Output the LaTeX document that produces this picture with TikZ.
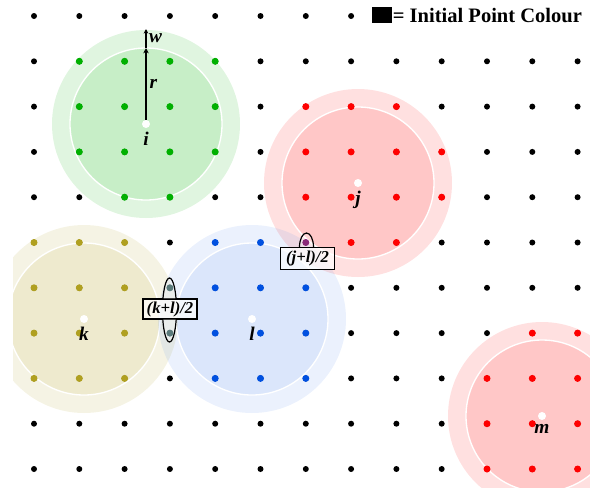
\documentclass[tikz,border=0pt]{standalone}
\usepackage{fontspec}
\setmainfont{Liberation Serif}
\usetikzlibrary{arrows.meta,positioning}
\definecolor{ptgreen}{HTML}{00B000}
\definecolor{ptred}{HTML}{FF0000}
\definecolor{ptolive}{HTML}{B0A020}
\definecolor{ptblue}{HTML}{0050E0}
\definecolor{ptpurple}{HTML}{8B2A7A}
\definecolor{ptgrey}{HTML}{5A7A7A}

\begin{document}
\begin{tikzpicture}[x=0.75pt,y=-0.75pt,
  zoneout/.style={fill=#1,fill opacity=0.12},
  zonein/.style={fill=#1,fill opacity=0.11,draw=white,line width=1pt},
  ctr/.style={circle,fill=white,inner sep=0pt,minimum size=6pt},
  lbl/.style={font=\fontsize{14.5}{16}\selectfont\bfseries\itshape,inner sep=1pt},
  midbox/.style={draw,line width=0.9pt,fill=white,fill opacity=0.7,text opacity=1,inner sep=1pt,
    minimum width=40.5pt,font=\fontsize{12.5}{14}\selectfont\bfseries\itshape},
  bump/.style={draw,line width=0.9pt,fill=white,fill opacity=0.25}
]
\useasboundingbox (0,0) rectangle (590,487);

% zones of the five points
\begin{scope}
  \clip (13,0) rectangle (590,487);
  \foreach \name/\x/\y/\col in {i/146/124/ptgreen,j/358/183/ptred,k/84/319/ptolive,l/252/319/ptblue!65,m/542/416/ptred} {
    \coordinate (c\name) at (\x,\y);
    \fill[zoneout=\col] (c\name) circle[radius=94];
    \filldraw[zonein=\col] (c\name) circle[radius=76];
  }
\end{scope}

% shared points
\node[midbox,minimum height=15pt] (kl) at (170,309) {(k+l)/2};
\node[midbox,minimum height=16.5pt] (jl) at (307.5,258.5) {(j+l)/2};
\begin{scope}
  \clip ([yshift=40pt]kl.north west) rectangle (kl.north east);
  \filldraw[bump] (169.5,310) ellipse[x radius=7,y radius=32];
\end{scope}
\begin{scope}
  \clip (kl.south west) rectangle ([yshift=-40pt]kl.south east);
  \filldraw[bump] (169.5,310) ellipse[x radius=7,y radius=32];
\end{scope}
\begin{scope}
  \clip ([yshift=30pt]jl.north west) rectangle (jl.north east);
  \filldraw[bump] (306.5,247) ellipse[x radius=7,y radius=14];
\end{scope}

% grid points
\foreach \c in {0,...,12}
  \foreach \r in {1,...,10}
    \fill ({34+45.3*\c},{16+45.3*\r}) circle[radius=3];
\foreach \c in {0,...,7}
  \fill ({34+45.3*\c},16) circle[radius=3];
\foreach \col/\pts in {
  ptgreen/{1/1,2/1,3/1,4/1,1/2,2/2,3/2,4/2,1/3,2/3,3/3,4/3,2/4,3/4},
  ptred/{6/2,7/2,8/2,6/3,7/3,8/3,9/3,6/4,7/4,8/4,9/4,7/5,8/5},
  ptred/{11/7,12/7,10/8,11/8,12/8,10/9,11/9,12/9,10/10,11/10,12/10},
  ptolive/{0/5,1/5,2/5,0/6,1/6,2/6,0/7,1/7,2/7,0/8,1/8,2/8},
  ptblue/{4/5,5/5,4/6,5/6,6/6,4/7,5/7,6/7,4/8,5/8,6/8},
  ptpurple/{6/5},
  ptgrey/{3/6,3/7}}
  \foreach \c/\r in \pts
    \fill[\col] ({34+45.3*\c},{16+45.3*\r}) circle[radius=3.5];

% centres and labels
\foreach \name in {i,j,k,l,m}
  \node[ctr] (\name) at (c\name) {};
\foreach \name in {i,j,k,l,m}
  \node[lbl,below=2pt of \name] (\name lbl) {\name};

\coordinate (rtop) at (146,48);
\coordinate (wtop) at (146,29);
\draw[line width=1.5pt,-{Stealth[length=4pt,width=4pt]}] (i) -- node[lbl,right=1pt] {r} (rtop);
\draw[line width=0.8pt,-{Stealth[length=3.5pt,width=3.5pt]}] (rtop) -- node[lbl,right=1pt] {w} (wtop);

% legend
\node[fill=black,minimum width=15.5pt,minimum height=12pt,inner sep=0pt] (key) at (382,15) {};
\node[right=0pt of key,inner sep=0pt,font=\fontsize{15.4}{18}\selectfont\bfseries] (keytext) {= Initial Point Colour};
\end{tikzpicture}
\end{document}
